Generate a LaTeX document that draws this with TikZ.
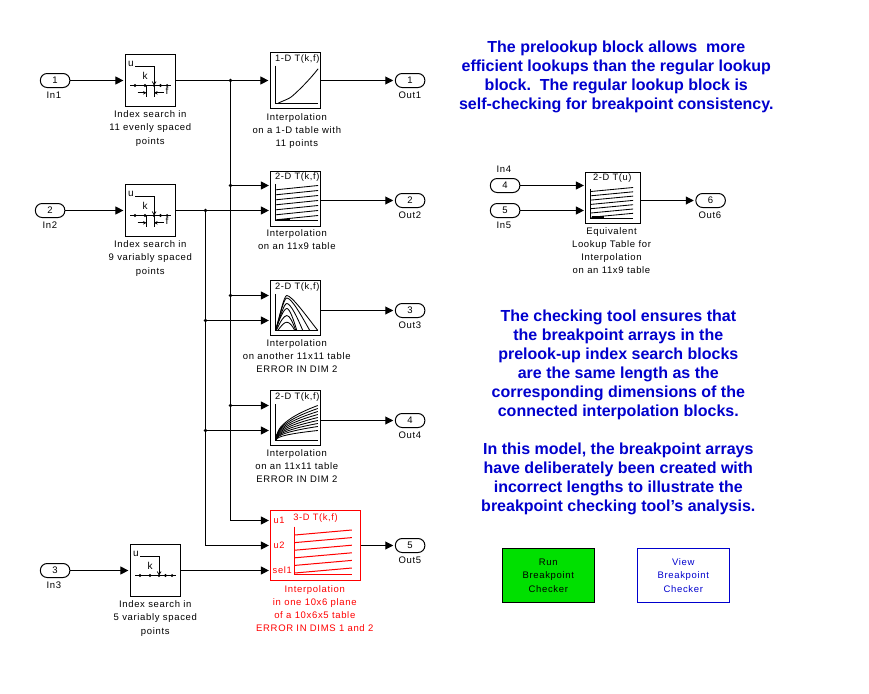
\documentclass[tikz,border=0pt]{standalone}
\usepackage{fontspec}
\setmainfont{Liberation Sans}
\newfontfamily\lblfont[LetterSpace=7]{Liberation Sans}
\usetikzlibrary{arrows.meta}
\definecolor{noteblue}{RGB}{0,0,205}
\definecolor{btngreen}{RGB}{0,224,0}
\tikzset{
  x=1pt,y=-1pt,
  wire/.style={line width=1pt,-{Triangle[length=8pt,width=8pt]},shorten >=1.6pt},
  plainwire/.style={line width=1pt},
  junct/.style={circle,fill=black,inner sep=0pt,minimum size=3.8pt},
  block/.style={draw,line width=1pt,inner sep=0pt,minimum width=50pt,minimum height=52pt},
  tbl/.style={block,minimum width=50pt,minimum height=55pt},
  port/.style={draw,rounded corners=6.8pt,line width=1pt,inner sep=0pt,minimum width=29.5pt,minimum height=14pt,font=\fontsize{9.5}{10}\selectfont},
  lbl/.style={font=\lblfont\fontsize{9.5}{13.3}\selectfont,align=center,inner sep=0pt},
  note/.style={font=\bfseries\fontsize{16}{19}\selectfont,align=center,text=noteblue,inner sep=0pt},
  icon/.style={line width=0.85pt},
  ttl/.style={font=\lblfont\fontsize{9.3}{10}\selectfont,inner sep=0pt},
}
\newcommand{\preicon}[3]{%
 \begin{scope}[shift={(#1,#2)}]
  \node[font=\fontsize{10}{10}\selectfont,inner sep=0pt] at (5.5,9) {u};
  \node[font=\fontsize{10}{10}\selectfont,inner sep=0pt] at (19.5,21.5) {k};
  \draw[line width=0.85pt] (9.5,12)--(28.6,12)--(28.6,29);
  \draw[line width=0.7pt] (26.6,27)--(28.6,30)--(30.6,27);
  \draw[line width=0.85pt] (4.5,31)--(45,31);
  \foreach \d in {9.5,19.5,28.6,35,41.6}{\fill (\d,31) circle (1.6pt);}
  #3
 \end{scope}}
\newcommand{\lowmarks}{%
  \draw[line width=0.85pt] (21,31)--(21,42.5) (28.6,31)--(28.6,42.5);
  \draw[line width=0.85pt,-{Stealth[length=3.5pt,width=3.5pt]}] (12,38.3)--(21,38.3);
  \draw[line width=0.85pt,-{Stealth[length=3.5pt,width=3.5pt]}] (38,38.3)--(28.6,38.3);
  \node[font=\fontsize{10}{10}\selectfont,inner sep=0pt] at (41.6,36) {f};}
\begin{document}
\begin{tikzpicture}
\useasboundingbox (0,0) rectangle (869,693);
\begin{scope}[shift={(-0.2,0.5)}]
% inports
\node[port] (in1) at (55.3,80) {1};
\node[port] (in2) at (50.3,210) {2};
\node[port] (in3) at (55.3,570) {3};
\node[port] (in4) at (505.3,185) {4};
\node[port] (in5) at (505.3,210) {5};
\node[lbl] (lin1) at (54,95) {In1};
\node[lbl] (lin2) at (50,225) {In2};
\node[lbl] (lin3) at (54,585) {In3};
\node[lbl] (lin4) at (504,169) {In4};
\node[lbl] (lin5) at (504,225) {In5};
% outports
\node[port] (o1) at (410.3,80) {1};
\node[port] (o2) at (410.3,200) {2};
\node[port] (o3) at (410.3,310) {3};
\node[port] (o4) at (410.3,420) {4};
\node[port] (o5) at (410.3,545) {5};
\node[port] (o6) at (710.8,200) {6};
\node[lbl] (lo1) at (410,95) {Out1};
\node[lbl] (lo2) at (410,215) {Out2};
\node[lbl] (lo3) at (410,325) {Out3};
\node[lbl] (lo4) at (410,435) {Out4};
\node[lbl] (lo5) at (410,560) {Out5};
\node[lbl] (lo6) at (710,215) {Out6};
% prelookups
\node[block] (p1) at (150.7,80) {};
\node[block] (p2) at (150.7,210) {};
\node[block] (p3) at (155.7,570) {};
\preicon{125.7}{54}{\lowmarks}
\preicon{125.7}{184}{\lowmarks}
\preicon{130.7}{544}{}
\node[lbl] at (150.5,128) {Index search in\\11 evenly spaced\\points};
\node[lbl] at (150.5,258) {Index search in\\9 variably spaced\\points};
\node[lbl] at (155.5,618) {Index search in\\5 variably spaced\\points};
% interpolation blocks
\node[tbl] (t1) at (295.7,80) {};
\node[tbl] (t2) at (295.7,198) {};
\node[tbl] (t3) at (295.7,307.5) {};
\node[tbl] (t4) at (295.7,417.5) {};
\node[tbl,draw=red,minimum width=90pt,minimum height=69.5pt,line width=1.2pt] (t5) at (315.7,545) {};
\node[tbl,minimum height=51pt,minimum width=55pt] (t6) at (613.2,197.5) {};
% port coordinates
\coordinate (t2a) at (270.7,185); \coordinate (t2b) at (270.7,210); \coordinate (t2o) at (320.7,200);
\coordinate (t3a) at (270.7,295); \coordinate (t3b) at (270.7,320); \coordinate (t3o) at (320.7,310);
\coordinate (t4a) at (270.7,405); \coordinate (t4b) at (270.7,430); \coordinate (t4o) at (320.7,420);
\coordinate (t5a) at (270.7,520); \coordinate (t5b) at (270.7,545); \coordinate (t5c) at (270.7,570);
\coordinate (t6a) at (585.7,185); \coordinate (t6b) at (585.7,210); \coordinate (t6o) at (640.7,200);
% junctions
\coordinate (busA) at (230.7,520);
\coordinate (busB) at (205.7,545);
\node[junct] (j1) at (230.7,80) {};
\node[junct] (j2) at (230.7,185) {};
\node[junct] (j3) at (230.7,295) {};
\node[junct] (j4) at (230.7,405) {};
\node[junct] (k0) at (205.7,210) {};
\node[junct] (k1) at (205.7,320) {};
\node[junct] (k2) at (205.7,430) {};
% wires
\draw[wire] (in1.east)--(p1.west);
\draw[wire] (in2.east)--(p2.west);
\draw[wire] (in3.east)--(p3.west);
\draw[wire] (p1.east)--(t1.west);
\draw[wire] (p2.east)--(t2b);
\draw[wire] (p3.east)--(t5c);
\draw[plainwire] (j1.center)--(busA);
\draw[plainwire] (k0.center)--(busB);
\draw[wire] (j2.center)--(t2a);
\draw[wire] (j3.center)--(t3a);
\draw[wire] (j4.center)--(t4a);
\draw[wire] (busA)--(t5a);
\draw[wire] (k1.center)--(t3b);
\draw[wire] (k2.center)--(t4b);
\draw[wire] (busB)--(t5b);
\draw[wire] (t1.east)--(o1.west);
\draw[wire] (t2o)--(o2.west);
\draw[wire] (t3o)--(o3.west);
\draw[wire] (t4o)--(o4.west);
\draw[wire] (t5.east)--(o5.west);
\draw[wire] (in4.east)--(t6a);
\draw[wire] (in5.east)--(t6b);
\draw[wire] (t6o)--(o6.west);
% t1 icon
\node[ttl] at (297.5,59) {1-D T(k,f)};
\draw[icon] (275.7,65)--(275.7,102.7)--(318.3,102.7);
\draw[icon] (278.3,102.7) .. controls (285,99.5) and (289,98.5) .. (292,96) .. controls (299,90) and (310,79) .. (318.3,68.3);
% t2 icon
\node[ttl] at (297.5,177) {2-D T(k,f)};
\draw[icon] (275.7,183.3)--(275.7,220)--(318.3,220);
\foreach \y in {0,...,6}{\draw[icon] (276,189.3+5*\y)--(318.3,185+5*\y);}
\draw[line width=1.6pt] (277.3,219.2)--(290,219.2);
% t3 icon
\node[ttl] at (297.5,287) {2-D T(k,f)};
\draw[icon] (275.7,293.3)--(275.7,330)--(317.7,330);
\draw[icon] (275.7,330) .. controls (280,316) and (284,295) .. (287,295) .. controls (292,295) and (307,316) .. (318,330);
\draw[icon] (275.7,330) .. controls (280,316) and (284,297.5) .. (287,297.5) .. controls (292,297.5) and (302,316) .. (310,330);
\draw[icon] (275.7,330) .. controls (280,318) and (284,303) .. (287,303) .. controls (291,303) and (298,318) .. (303,330);
\draw[icon] (275.7,330) .. controls (279,320) and (284,308) .. (287,308) .. controls (290,308) and (294,320) .. (297,330);
\draw[icon] (276.5,330) .. controls (280,322) and (284,315) .. (287,315) .. controls (290,315) and (293,322) .. (296,330);
\draw[icon] (278,330) .. controls (281,326) and (284,321.7) .. (287,321.7) .. controls (290,321.7) and (293,326) .. (295,330);
% t4 icon
\node[ttl] at (297.5,397) {2-D T(k,f)};
\draw[icon] (275.7,403.5)--(275.7,440)--(317.7,440);
\foreach \A in {10,14,17,20,23,26,29,32,35}{
 \draw[icon] (276,440)--plot[domain=0.5:42,samples=16,smooth] ({276+\x},{440-\A*pow(\x/42,0.45)});}
% t5 icon
\begin{scope}[red]
\node[ttl,text=red] at (315.7,518) {3-D T(k,f)};
\node[ttl,text=red,anchor=west] at (273.5,520) {u1};
\node[ttl,text=red,anchor=west] at (273.5,545) {u2};
\node[ttl,text=red,anchor=west] at (272.7,570) {sel1};
\draw[line width=1pt] (294.7,526)--(294.7,574.3)--(352,574.3);
\foreach \y in {0,...,5}{\draw[line width=1pt] (295,534.5+7.6*\y)--(352,529.5+7.6*\y);}
\end{scope}
% t6 icon
\node[ttl] at (612.5,177.7) {2-D T(u)};
\draw[icon] (590.7,188.3)--(590.7,217.5)--(633.3,217.5);
\foreach \y in {0,...,6}{\draw[icon] (591,191+4.3*\y)--(633.3,187+4.3*\y);}
\draw[line width=1.6pt] (592,216.7)--(604,216.7);
% block labels
\node[lbl,anchor=north] at (297,112.5) {Interpolation\\on a 1-D table with\\11 points};
\node[lbl,anchor=north] at (297,228.5) {Interpolation\\on an 11x9 table};
\node[lbl,anchor=north] at (297,338.5) {Interpolation\\on another 11x11 table\\ERROR IN DIM 2};
\node[lbl,anchor=north] at (297,448.5) {Interpolation\\on an 11x11 table\\ERROR IN DIM 2};
\node[lbl,anchor=north,text=red] at (315,584.5) {Interpolation\\in one 10x6 plane\\of a 10x6x5 table\\ERROR IN DIMS 1 and 2};
\node[lbl,anchor=north] at (611.7,226.5) {Equivalent\\Lookup Table for\\Interpolation\\on an 11x9 table};
% notes
\node[note,anchor=north] at (616.5,40.5) {The prelookup block allows\ \ more\\efficient lookups than the regular lookup\\block.\ \ The regular lookup block is\\self-checking for breakpoint consistency.};
\node[note,anchor=north] at (618.5,309) {The checking tool ensures that\\the breakpoint arrays in the\\prelook-up index search blocks\\are the same length as the\\corresponding dimensions of the\\connected interpolation blocks.\\[19pt]In this model, the breakpoint arrays\\have deliberately been created with\\incorrect lengths to illustrate the\\breakpoint checking tool's analysis.};
% buttons
\node[draw,fill=btngreen,line width=1pt,minimum width=91.6pt,minimum height=54pt,inner sep=0pt,lbl] (run) at (548.5,575) {Run\\Breakpoint\\Checker};
\node[draw=noteblue,text=noteblue,line width=1pt,minimum width=92.4pt,minimum height=54pt,inner sep=0pt,lbl] (view) at (683.5,575) {View\\Breakpoint\\Checker};
\end{scope}
\end{tikzpicture}
\end{document}
